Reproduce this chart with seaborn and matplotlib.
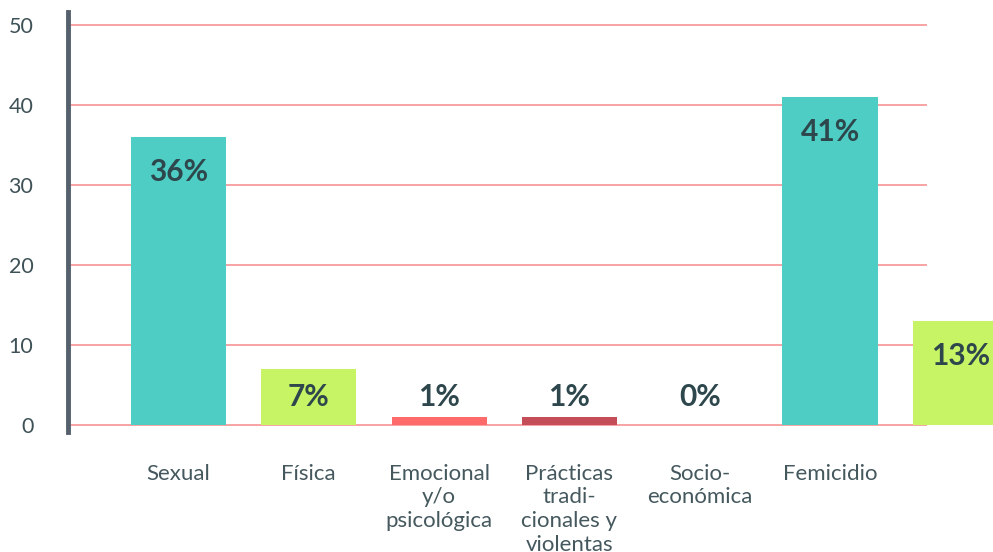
import matplotlib
matplotlib.use("Agg")
import matplotlib.pyplot as plt
import seaborn as sns
import pandas as pd

categories = ["Sexual", "Física", "Emocional\ny/o\npsicológica",
              "Prácticas\ntradi-\ncionales y\nviolentas", "Socio-\neconómica",
              "Femicidio", "Otros"]
values = [36, 7, 1, 1, 0, 41, 13]
labels = ["36%", "7%", "1%", "1%", "0%", "41%", "13%"]
colors = ["#4ECDC4", "#C7F464", "#FF6B6B", "#C44D58", "#556270", "#4ECDC4", "#C7F464"]
yticks = [0, 10, 20, 30, 40, 50]

sns.set_theme(style="white")
plt.rcParams["font.family"] = ["Lato", "DejaVu Sans"]

df = pd.DataFrame({"cat": categories, "val": values})

fig = plt.figure(figsize=(9.93, 5.52), dpi=100)
ax = fig.add_axes([68/993, 1-432/552, (927-68)/993, 420/552])

sns.barplot(data=df, x="cat", y="val", hue="cat", palette=colors, legend=False,
            width=0.73, saturation=1, ax=ax, zorder=3)
for p in ax.patches:
    p.set_clip_on(False)
    p.set_linewidth(0)

ax.set_xlim(-0.848, 5.744)
ax.set_ylim(-0.875, 51.6)
ax.set_yticks(yticks)
ax.set_yticklabels([str(t) for t in yticks])
for t in yticks:
    ax.axhline(t, color="#F7A3A3", lw=1.4, zorder=1)

for sp in ["top", "right", "bottom"]:
    ax.spines[sp].set_visible(False)
ax.spines["left"].set_color("#56606D")
ax.spines["left"].set_linewidth(3.5)

ax.set_xlabel("")
ax.set_ylabel("")
ax.tick_params(axis="y", length=0, pad=25, labelsize=15.5, labelcolor="#3E5156")
ax.tick_params(axis="x", length=0, pad=23, labelsize=16, labelcolor="#44585E")
for lbl in ax.get_xticklabels():
    lbl.set_linespacing(1.22)

for i, (v, s) in enumerate(zip(values, labels)):
    y = max(v - 4.4, 3.5)
    ax.text(i, y, s, ha="center", va="center", fontsize=21.5, fontweight="bold",
            color="#2E474C", zorder=4, clip_on=False)

fig.savefig("out.png", dpi=100)
